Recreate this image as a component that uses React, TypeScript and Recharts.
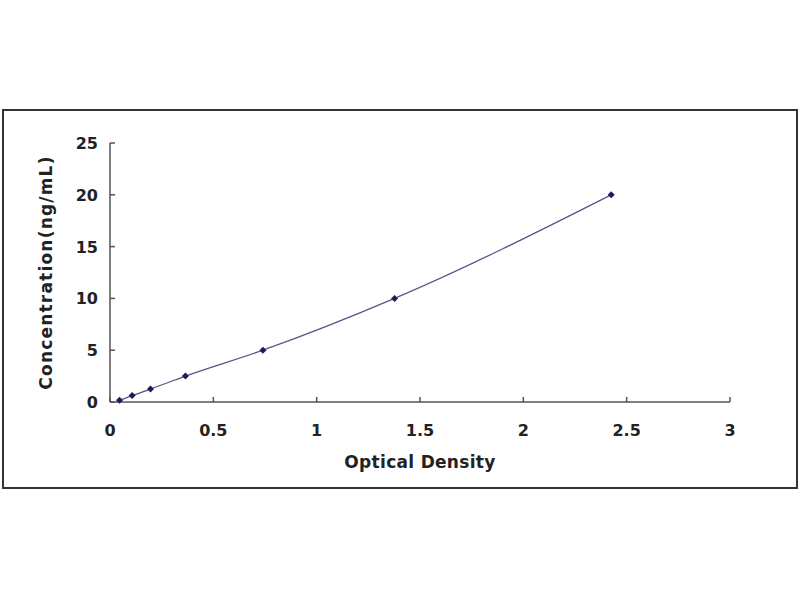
import React from 'react';
import { LineChart, Line, XAxis, YAxis, Label } from 'recharts';

const opticalDensity = [0.046, 0.107, 0.196, 0.365, 0.74, 1.377, 2.425];
const concentration = [0.16, 0.625, 1.25, 2.5, 5, 10, 20];
const xTicks = [0, 0.5, 1, 1.5, 2, 2.5, 3];
const yTicks = [0, 5, 10, 15, 20, 25];

const data = opticalDensity.map((od, i) => ({ od, conc: concentration[i] }));

const FONT = '"DejaVu Sans", Verdana, sans-serif';
const TEXT = '#222';
const AXIS = '#555';

const XTick = (props: any) => {
    const { x, y, payload } = props;
    return (
        <g>
            <line x1={x} y1={y} x2={x} y2={y - 5} stroke={AXIS} strokeWidth={1.5} />
            <text x={x} y={y + 34} textAnchor="middle" fontFamily={FONT} fontWeight="bold" fontSize={16} fill={TEXT}>
                {payload.value}
            </text>
        </g>
    );
};

const YTick = (props: any) => {
    const { x, y, payload } = props;
    return (
        <g>
            <line x1={x} y1={y} x2={x + 5} y2={y} stroke={AXIS} strokeWidth={1.5} />
            <text x={x - 12} y={y + 6} textAnchor="end" fontFamily={FONT} fontWeight="bold" fontSize={16} fill={TEXT}>
                {payload.value}
            </text>
        </g>
    );
};

const Diamond = (props: any) => {
    const { cx, cy } = props;
    if (cx == null || cy == null) return null;
    return <path d={`M${cx},${cy - 3.5}L${cx + 3.5},${cy}L${cx},${cy + 3.5}L${cx - 3.5},${cy}Z`} fill="#1c1c5c" />;
};

export default function App() {
    return (
        <div style={{ position: 'absolute', left: 0, top: 0, width: 800, height: 600, background: '#fff' }}>
            <div
                style={{
                    position: 'absolute',
                    left: 2,
                    top: 109,
                    width: 792,
                    height: 376,
                    border: '2px solid #333',
                }}
            />
            <div style={{ position: 'absolute', left: 0, top: 0 }}>
                <LineChart width={800} height={600} data={data} margin={{ top: 143, right: 70, bottom: 158, left: 50 }}>
                    <XAxis
                        dataKey="od"
                        type="number"
                        domain={[0, 3]}
                        ticks={xTicks}
                        height={40}
                        tickSize={0}
                        tickMargin={0}
                        tickLine={false}
                        tick={<XTick />}
                        axisLine={{ stroke: AXIS, strokeWidth: 1.5 }}
                        interval={0}
                    >
                        <Label
                            value="Optical Density"
                            position="bottom"
                            offset={14}
                            style={{ fontFamily: FONT, fontWeight: 'bold', fontSize: 17, fill: TEXT, letterSpacing: 0.3 }}
                        />
                    </XAxis>
                    <YAxis
                        type="number"
                        domain={[0, 25]}
                        ticks={yTicks}
                        width={60}
                        tickSize={0}
                        tickMargin={0}
                        tickLine={false}
                        tick={<YTick />}
                        axisLine={{ stroke: AXIS, strokeWidth: 1.5 }}
                        interval={0}
                    >
                        <Label
                            value="Concentration(ng/mL)"
                            angle={-90}
                            position="insideLeft"
                            offset={-4}
                            style={{
                                fontFamily: FONT,
                                fontWeight: 'bold',
                                fontSize: 17,
                                fill: TEXT,
                                textAnchor: 'middle',
                                letterSpacing: 1.2,
                            }}
                        />
                    </YAxis>
                    <Line
                        dataKey="conc"
                        type="monotone"
                        stroke="#55558a"
                        strokeWidth={1.3}
                        dot={<Diamond />}
                        activeDot={false}
                        isAnimationActive={false}
                    />
                </LineChart>
            </div>
        </div>
    );
}
